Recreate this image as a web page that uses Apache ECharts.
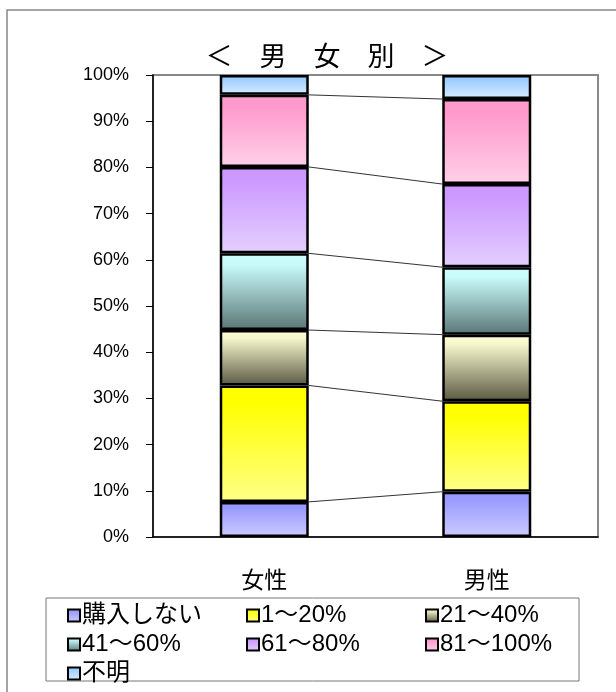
<!DOCTYPE html>
<html>
<head>
<meta charset="utf-8">
<script src="https://cdn.jsdelivr.net/npm/echarts@6/dist/echarts.min.js"></script>
<style>html,body{margin:0;padding:0;background:#fff}#c{width:616px;height:692px}</style>
</head>
<body>
<div id="c"></div>
<script>
const categories = ['女性', '男性'];
const seriesNames = ['購入しない', '1～20%', '21～40%', '41～60%', '61～80%', '81～100%', '不明'];
const s0 = [7.6, 9.8];
const s1 = [25.2, 19.6];
const s2 = [12.0, 14.4];
const s3 = [16.6, 14.6];
const s4 = [18.7, 18.0];
const s5 = [15.6, 18.4];
const s6 = [4.3, 5.2];
const yTicks = [0, 10, 20, 30, 40, 50, 60, 70, 80, 90, 100];
const titleText = '＜　男　女　別　＞';

const values = [s0, s1, s2, s3, s4, s5, s6];
const grads = [
  ['#9999ff', '#9999ff', '#ccccff'],
  ['#ffff00', '#ffff00', '#ffff88'],
  ['#ffffd4', '#f6f6cc', '#5a5842'],
  ['#ccffff', '#c8fafa', '#5a7676'],
  ['#cc99ff', '#cc99ff', '#e4cfff'],
  ['#ff9acc', '#ff99cc', '#ffd0e8'],
  ['#99ccff', '#99ccff', '#d8ecff']
];
function grad(g) {
  return new echarts.graphic.LinearGradient(0, 0, 0, 1, [
    {offset: 0, color: g[0]}, {offset: 0.15, color: g[1]}, {offset: 1, color: g[2]}
  ]);
}
const FONT = "'Liberation Sans','Noto Sans CJK JP',sans-serif";
const series = seriesNames.map((n, i) => ({
  name: n, type: 'bar', stack: 'total', barWidth: '40%',
  data: values[i],
  itemStyle: {color: grad(grads[i]), borderColor: '#000', borderWidth: 2.5},
  emphasis: {disabled: true}
}));
// series lines (connectors between segment tops)
const boundaries = [];
let c0 = 0, c1 = 0;
for (let i = 0; i < values.length - 1; i++) {
  c0 += values[i][0]; c1 += values[i][1];
  boundaries.push([0, c0, c1]);
}
series.push({
  type: 'custom', name: 'lines', z: 1, silent: true,
  encode: {x: 0, y: [1, 2]},
  data: boundaries,
  renderItem: function (params, api) {
    const p0 = api.coord([0, api.value(1)]);
    const p1 = api.coord([1, api.value(2)]);
    const bw = api.size([1, 0])[0] * 0.4;
    return {
      type: 'line',
      shape: {x1: p0[0] + bw / 2, y1: p0[1], x2: p1[0] - bw / 2, y2: p1[1]},
      style: {stroke: '#333', lineWidth: 1}
    };
  }
});

const chart = echarts.init(document.getElementById('c'));
chart.setOption({
  animation: false,
  backgroundColor: '#fff',
  title: {
    text: titleText, left: 322, top: 40, textAlign: 'center',
    textStyle: {fontFamily: FONT, fontSize: 27, fontWeight: 'normal', color: '#000'}
  },
  grid: {left: 153, right: 18, top: 75, bottom: 155, show: true, borderColor: '#888', borderWidth: 2},
  xAxis: {
    type: 'category', data: categories,
    axisLine: {lineStyle: {color: '#000', width: 1.5}},
    axisTick: {length: 7, lineStyle: {color: '#000'}},
    axisLabel: {margin: 33, fontFamily: FONT, fontSize: 23, color: '#000'}
  },
  yAxis: {
    type: 'value', min: yTicks[0], max: yTicks[yTicks.length - 1], interval: 10,
    axisLine: {show: true, lineStyle: {color: '#000', width: 1.5}},
    axisTick: {show: true, length: 7, lineStyle: {color: '#000'}},
    splitLine: {show: false},
    axisLabel: {margin: 24, fontFamily: FONT, fontSize: 18, color: '#000', formatter: '{value}%'}
  },
  legend: {
    data: seriesNames, left: 67, top: 603, width: 545, orient: 'horizontal',
    icon: 'rect', itemWidth: 12, itemHeight: 12, itemGap: 4, padding: 0,
    itemStyle: {borderColor: '#000', borderWidth: 2},
    textStyle: {fontFamily: FONT, fontSize: 24, color: '#000', width: 160, lineHeight: 25, padding: [0, 0, 0, -3]},
    selectedMode: false
  },
  graphic: [
    {type: 'rect', shape: {x: 7, y: 10, width: 640, height: 720}, style: {fill: 'none', stroke: '#888', lineWidth: 1.5}, silent: true},
    {type: 'rect', shape: {x: 46, y: 598, width: 533, height: 83}, style: {fill: 'none', stroke: '#777', lineWidth: 1}, silent: true}
  ],
  series: series
});
</script>
</body>
</html>
